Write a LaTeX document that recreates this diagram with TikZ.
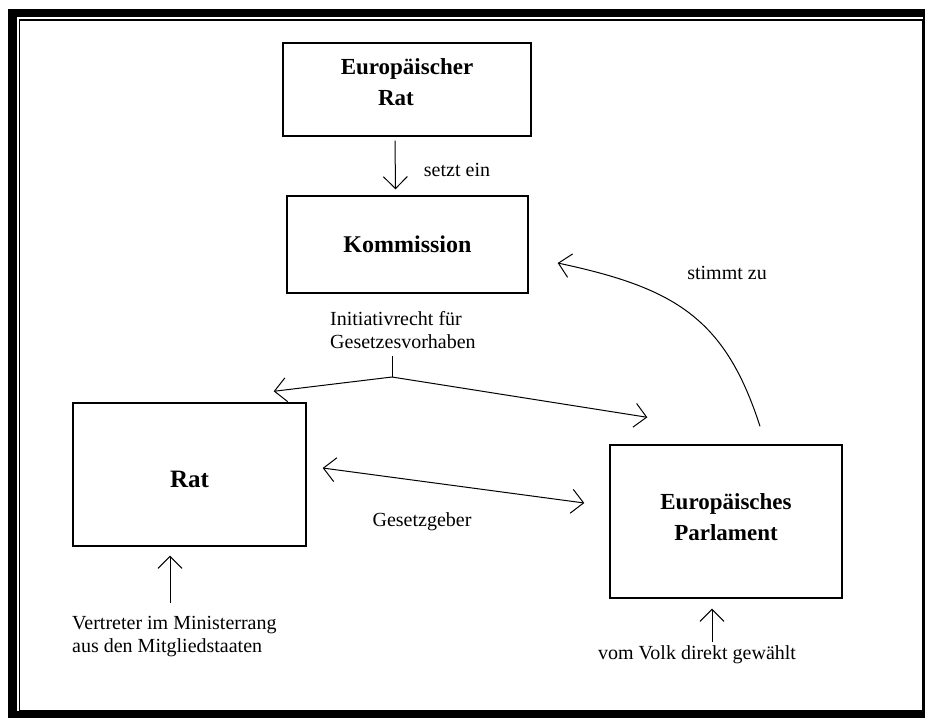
\documentclass[tikz,border=0pt]{standalone}
\usepackage{fontspec}
\setmainfont{Liberation Serif}
\usetikzlibrary{arrows.meta, positioning, calc}

\tikzset{
  organ/.style={draw, line width=1.4pt, inner sep=0pt, align=center, font=\fontsize{23}{31}\selectfont\bfseries},
  notiz/.style={inner sep=0pt, font=\fontsize{20}{23}\selectfont},
  pfeil/.style={-{Straight Barb[length=12pt,width=24pt]}, line width=1pt},
  doppelpfeil/.style={{Straight Barb[length=12pt,width=24pt]}-{Straight Barb[length=12pt,width=24pt]}, line width=1pt}
}

\begin{document}
\begin{tikzpicture}[x=1pt, y=-1pt]
\useasboundingbox (0,0) rectangle (925,718);
% Rahmen
\fill[black] (8,9) rectangle (925,718);
\fill[white] (17,17) rectangle (923,711);
\draw[line width=1.5pt] (19.5,20) rectangle (923,711);

% Organe
\node[organ, minimum width=248pt, minimum height=93pt, text depth=15pt] (er) at (407,89.5) {Europäischer\\Rat\hspace*{22pt}};
\node[organ, minimum width=241pt, minimum height=97pt, font=\fontsize{24}{30}\selectfont\bfseries] (ko) at (407.5,244.5) {Kommission};
\node[organ, minimum width=233pt, minimum height=143pt, text height=27pt, font=\fontsize{25}{30}\selectfont\bfseries] (rat) at (189.5,474.5) {Rat};
\node[organ, minimum width=232pt, minimum height=153pt, text depth=9pt] (ep) at (726,521.5) {Europäisches\\Parlament};

% setzt ein
\draw[pfeil] ([xshift=-12pt,yshift=-4pt]er.south) -- ([xshift=-12pt,yshift=6pt]ko.north);
\node[notiz] (setzt) at (457,170) {setzt ein};

% Initiativrecht
\node[notiz, anchor=north west, align=left] (ini) at (330,311) {Initiativrecht für\\Gesetzesvorhaben};
\coordinate (gabel) at (392,377);
\draw[line width=1pt] ($(ini.south -| gabel)+(0,7)$) -- (gabel);
\draw[pfeil] (gabel) -- ([xshift=-33pt,yshift=11pt]rat.north east);
\draw[pfeil] (gabel) -- ([xshift=38pt,yshift=27pt]ep.north west);

% Gesetzgeber
\draw[doppelpfeil] ([xshift=16pt,yshift=6.5pt]rat.east) -- ([xshift=-25pt,yshift=18.5pt]ep.west);
\node[notiz] (gesetz) at (422,522) {Gesetzgeber};

% stimmt zu
\draw[pfeil] ([xshift=34pt,yshift=18pt]ep.north) .. controls (725,318) and (675,288) .. ([xshift=29pt,yshift=-18.5pt]ko.east);
\node[notiz] (stimmt) at (727,273) {stimmt zu};

% Herkunft
\node[notiz, anchor=north west, align=left] (vertreter) at (72,616) {Vertreter im Ministerrang\\aus den Mitgliedstaaten};
\coordinate (vfuss) at (170,603);
\draw[pfeil] (vfuss) -- ([xshift=-19.5pt,yshift=-9pt]rat.south);

\node[notiz] (volk) at (697,655) {vom Volk direkt gewählt};
\coordinate (pfuss) at (712,642);
\draw[pfeil] (pfuss) -- ([xshift=-14pt,yshift=-10pt]ep.south);
\end{tikzpicture}
\end{document}
